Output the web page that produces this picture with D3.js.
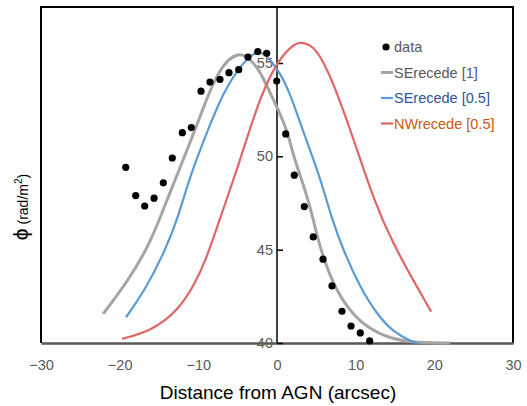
<!DOCTYPE html>
<html>
<head>
<meta charset="utf-8">
<script src="https://cdn.jsdelivr.net/npm/d3@7"></script>
<style>
  html, body { margin: 0; padding: 0; background: #fff; }
  svg { display: block; font-family: "Liberation Sans", Arial, sans-serif; }
</style>
</head>
<body>
<svg id="chart"></svg>
<script>
(function () {

  var width = 527, height = 406;

  // measured data points (arcsec, rad/m^2)
  var dataX = [-19.23, -17.96, -16.82, -15.63, -14.45, -13.31, -12.04, -10.89, -9.66,
    -8.52, -7.25, -6.10, -4.87, -3.69, -2.45, -1.31, -0.04, 1.11, 2.20, 3.47, 4.61,
    5.85, 6.99, 8.26, 9.41, 10.59, 11.78];
  var dataY = [49.41, 47.90, 47.34, 47.76, 48.58, 49.91, 51.27, 51.54, 53.49,
    53.98, 54.12, 54.48, 54.64, 55.32, 55.61, 55.52, 54.03, 51.20, 48.99, 47.31, 45.68,
    44.49, 43.06, 41.70, 40.91, 40.54, 40.11];

  // model curves
  var seRecede1X = [-22.1, -18.9, -16.4, -14.9, -13.0, -10.6, -8.5, -6.8, -5.1, -3.9,
    -2.2, -0.9, 0.4, 1.4, 2.1, 3.6, 4.6, 5.5, 7.6, 10.6, 13.9, 16.9, 22.0];
  var seRecede1Y = [41.56, 43.35, 45.14, 46.67, 48.7, 51.2, 53.6, 55.0, 55.5, 55.42,
    54.64, 53.4, 52.3, 51.24, 49.98, 48.19, 46.67, 45.0, 42.63, 41.02, 40.3, 40.03, 40.0];

  var seRecede05X = [-19.2, -16.8, -14.2, -12.55, -11.1, -8.9, -6.8, -4.7, -3.0, -1.9,
    -0.9, 0.4, 1.65, 3.34, 5.47, 6.95, 8.43, 10.55, 12.67, 14.78, 17.33, 17.8];
  var seRecede05Y = [41.38, 42.81, 44.96, 46.75, 48.9, 51.3, 53.45, 54.82, 55.55, 55.6,
    55.2, 54.46, 53.4, 51.3, 48.9, 46.67, 44.96, 42.99, 41.56, 40.57, 40.03, 40.0];

  var nwRecede05X = [-19.7, -15.9, -12.55, -10.4, -9.0, -7.46, -6.8, -4.7, -3.65, -2.0,
    -0.04, 1.65, 2.9, 4.2, 5.47, 7.3, 9.8, 12.3, 14.78, 17.33, 19.6];
  var nwRecede05Y = [40.22, 40.66, 41.74, 43.2, 44.5, 46.4, 47.2, 49.8, 51.2, 53.3,
    55.0, 55.85, 56.15, 56.0, 55.45, 53.8, 50.85, 47.65, 45.3, 43.35, 41.68];

  var xTicks = [-30, -20, -10, 0, 10, 20, 30];
  var yTicks = [40, 45, 50, 55];

  var series = [
    { name: 'SErecede [1]',   xs: seRecede1X,  ys: seRecede1Y,  color: '#a5a5a5', text: '#595959', w: 3 },
    { name: 'SErecede [0.5]', xs: seRecede05X, ys: seRecede05Y, color: '#5b9bd5', text: '#2f5597', w: 2.2 },
    { name: 'NWrecede [0.5]', xs: nwRecede05X, ys: nwRecede05Y, color: '#e06666', text: '#c55a11', w: 2.2 }
  ];

  var svg = d3.select('#chart')
    .attr('width', width)
    .attr('height', height);

  var x = d3.scaleLinear().domain([-30, 30]).range([41, 513]);
  var y = d3.scaleLinear().domain([40, 58]).range([343, 7]);

  // frame
  svg.append('path')
    .attr('d', 'M' + x(-30) + ',' + y(40) + 'V' + y(58) + 'H' + x(30) + 'V' + y(40))
    .attr('fill', 'none')
    .attr('stroke', '#000')
    .attr('stroke-width', 2);

  // bottom axis
  var xAxis = svg.append('g')
    .attr('transform', 'translate(0,' + y(40) + ')')
    .call(d3.axisBottom(x).tickValues(xTicks).tickSize(0).tickPadding(17));
  xAxis.select('.domain').attr('stroke', '#595959').attr('stroke-width', 2.5);
  xAxis.selectAll('text')
    .attr('fill', '#595959')
    .style('font-size', '14.5px');

  // vertical axis at x = 0
  var yAxis = svg.append('g')
    .attr('transform', 'translate(' + x(0) + ',0)')
    .call(d3.axisLeft(y).tickValues(yTicks).tickSizeInner(-6).tickSizeOuter(0).tickPadding(4));
  yAxis.select('.domain').remove();
  yAxis.selectAll('line').attr('stroke', '#000').attr('stroke-width', 1.5);
  yAxis.selectAll('text')
    .attr('fill', '#595959')
    .style('font-size', '14.5px');
  svg.append('line')
    .attr('x1', x(0)).attr('x2', x(0))
    .attr('y1', y(58)).attr('y2', y(40))
    .attr('stroke', '#000')
    .attr('stroke-width', 1.5);

  // curves
  var line = d3.line()
    .x(function (d) { return x(d[0]); })
    .y(function (d) { return y(d[1]); })
    .curve(d3.curveBasis);

  series.forEach(function (s) {
    var pts = s.xs.map(function (v, i) { return [v, s.ys[i]]; });
    svg.append('path')
      .datum(pts)
      .attr('d', line)
      .attr('fill', 'none')
      .attr('stroke', s.color)
      .attr('stroke-width', s.w);
  });

  // data points
  svg.append('g').selectAll('circle')
    .data(dataX.map(function (v, i) { return [v, dataY[i]]; }))
    .join('circle')
    .attr('cx', function (d) { return x(d[0]); })
    .attr('cy', function (d) { return y(d[1]); })
    .attr('r', 3.6)
    .attr('fill', '#000');

  // legend
  var legend = svg.append('g').attr('transform', 'translate(381,47)');
  legend.append('circle').attr('cx', 5).attr('cy', 0).attr('r', 3.6).attr('fill', '#000');
  legend.append('text')
    .attr('x', 13).attr('y', 0).attr('dy', '0.35em')
    .attr('fill', '#595959')
    .style('font-size', '14.5px')
    .text('data');
  series.forEach(function (s, i) {
    var yy = 25.5 * (i + 1);
    legend.append('line')
      .attr('x1', 0).attr('x2', 12)
      .attr('y1', yy).attr('y2', yy)
      .attr('stroke', s.color)
      .attr('stroke-width', s.w);
    legend.append('text')
      .attr('x', 13).attr('y', yy).attr('dy', '0.35em')
      .attr('fill', s.text)
      .style('font-size', '14.5px')
      .text(s.name);
  });

  // axis titles
  svg.append('text')
    .attr('x', 278).attr('y', 399)
    .attr('text-anchor', 'middle')
    .attr('fill', '#000')
    .style('font-size', '19px')
    .text('Distance from AGN (arcsec)');

  var yt = svg.append('text')
    .attr('transform', 'translate(28,207) rotate(-90)')
    .attr('text-anchor', 'middle')
    .attr('fill', '#000');
  yt.append('tspan').style('font-size', '21px').text('ϕ');
  yt.append('tspan').style('font-size', '14px').text(' (rad/m');
  yt.append('tspan').style('font-size', '10px').attr('dy', '-6').text('2');
  yt.append('tspan').style('font-size', '14px').attr('dy', '6').text(')');

})();
</script>
</body>
</html>
